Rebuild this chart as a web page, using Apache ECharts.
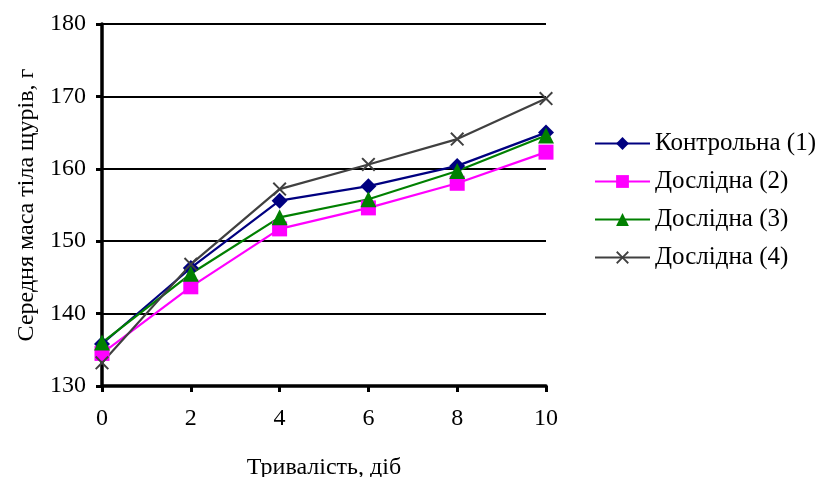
<!DOCTYPE html>
<html>
<head>
<meta charset="utf-8">
<script src="https://cdn.jsdelivr.net/npm/echarts@6/dist/echarts.min.js"></script>
<style>
  html, body { margin: 0; padding: 0; background: #fff; }
  #chart { width: 817px; height: 477px; }
</style>
</head>
<body>
<div id="chart"></div>
<script>
const days = [0, 2, 4, 6, 8, 10];
const control1 = [135.8, 146.3, 155.6, 157.6, 160.4, 165.0];
const exp2 = [134.5, 143.7, 151.7, 154.6, 158.0, 162.3];
const exp3 = [136.0, 145.5, 153.3, 155.8, 159.7, 164.6];
const exp4 = [133.2, 146.8, 157.2, 160.6, 164.1, 169.7];

const cross = 'path://M0,1L1,0L5,4L9,0L10,1L6,5L10,9L9,10L5,6L1,10L0,9L4,5Z';
const font = 'Liberation Serif';

function pairs(vals) {
    return days.map((d, i) => [d, vals[i]]);
}

function line(name, vals, color, symbol, size) {
    return {
        name: name,
        type: 'line',
        data: pairs(vals),
        symbol: symbol,
        symbolSize: size,
        lineStyle: { color: color, width: 2.2 },
        itemStyle: { color: color },
        emphasis: { disabled: true }
    };
}

const chart = echarts.init(document.getElementById('chart'));
chart.setOption({
    animation: false,
    textStyle: { fontFamily: font },
    grid: { left: 102, right: 271, top: 24, bottom: 91, outerBoundsMode: 'none' },
    legend: {
        orient: 'vertical',
        left: 589,
        top: 126,
        itemWidth: 55,
        itemHeight: 16,
        itemGap: 13,
        textStyle: { fontFamily: font, fontSize: 25, color: '#000' },
        data: ['Контрольна (1)', 'Дослідна (2)', 'Дослідна (3)', 'Дослідна (4)']
    },
    xAxis: {
        type: 'value',
        min: 0,
        max: 10,
        interval: 2,
        name: 'Тривалість, діб',
        nameLocation: 'middle',
        nameGap: 70,
        nameTextStyle: { fontFamily: font, fontSize: 24, color: '#000' },
        axisLine: { lineStyle: { color: '#000', width: 3.5 } },
        axisTick: { show: true, length: 6, lineStyle: { color: '#000', width: 3 } },
        axisLabel: { fontFamily: font, fontSize: 24, color: '#000', margin: 21 },
        splitLine: { show: false }
    },
    yAxis: {
        type: 'value',
        min: 130,
        max: 180,
        interval: 10,
        name: 'Середня маса тіла щурів, г',
        nameLocation: 'middle',
        nameGap: 63,
        nameTextStyle: { fontFamily: font, fontSize: 24, color: '#000' },
        axisLine: { show: true, lineStyle: { color: '#000', width: 3.5 } },
        axisTick: { show: true, length: 6, lineStyle: { color: '#000', width: 3 } },
        axisLabel: { fontFamily: font, fontSize: 24, color: '#000', margin: 16 },
        splitLine: { lineStyle: { color: '#000', width: 2 } }
    },
    series: [
        line('Контрольна (1)', control1, '#000080', 'diamond', 16),
        line('Дослідна (2)', exp2, '#ff00ff', 'rect', 15),
        line('Дослідна (3)', exp3, '#008000', 'triangle', 16),
        line('Дослідна (4)', exp4, '#404040', cross, 14)
    ]
});
</script>
</body>
</html>
